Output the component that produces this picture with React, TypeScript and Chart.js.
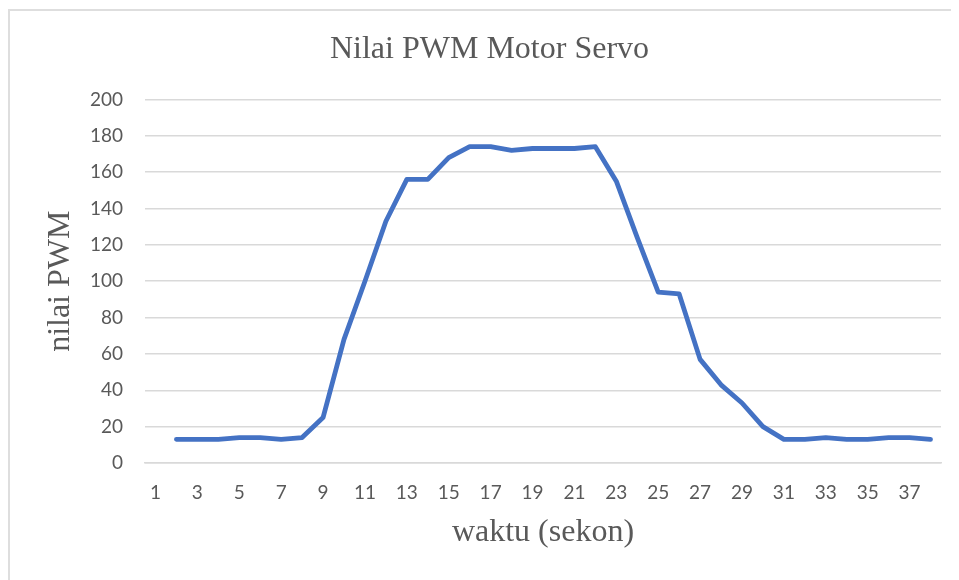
import React, { useEffect, useRef } from "react";
import { Chart, registerables } from "chart.js";

Chart.register(...registerables);

const categories: string[] = Array.from({ length: 38 }, (_, i) => String(i + 1));
const pwmValues: (number | null)[] = [
  null, 13, 13, 13, 14, 14, 13, 14, 25, 68,
  100, 133, 156, 156, 168, 174, 174, 172, 173, 173,
  173, 174, 155, 124, 94, 93, 57, 43, 33, 20,
  13, 13, 14, 13, 13, 14, 14, 13,
];
const yTicks: number[] = [0, 20, 40, 60, 80, 100, 120, 140, 160, 180, 200];
const chartTitle = "Nilai PWM Motor Servo";
const xTitle = "waktu (sekon)";
const yTitle = "nilai PWM";

export default function App() {
  const ref = useRef<HTMLCanvasElement | null>(null);

  useEffect(() => {
    if (!ref.current) return;
    const serif = "'Liberation Serif', 'Times New Roman', serif";
    const sans = "Lato, 'Noto Sans', sans-serif";
    const chart = new Chart(ref.current, {
      type: "line",
      data: {
        labels: categories,
        datasets: [
          {
            data: pwmValues,
            borderColor: "#4472C4",
            backgroundColor: "#4472C4",
            borderWidth: 4.8,
            pointRadius: 0,
            tension: 0,
            borderJoinStyle: "round",
            borderCapStyle: "round",
            spanGaps: false,
            yAxisID: "y",
          },
        ],
      },
      options: {
        responsive: false,
        animation: false,
        layout: { padding: { left: 0, right: 0, top: 0, bottom: 0 } },
        plugins: {
          legend: { display: false },
          tooltip: { enabled: false },
          title: {
            display: true,
            text: chartTitle,
            color: "#595959",
            font: { family: serif, size: 32, weight: "normal" },
            padding: { top: 19, bottom: 31 },
          },
        },
        scales: {
          x: {
            type: "category",
            offset: true,
            grid: { display: false, drawTicks: false },
            border: { display: true, color: "#d9d9d9", width: 1.5 },
            ticks: {
              autoSkip: false,
              maxRotation: 0,
              minRotation: 0,
              padding: 18,
              color: "#595959",
              font: { family: sans, size: 19 },
              callback: (_v: any, i: number) => (i % 2 === 0 ? categories[i] : ""),
            },
            title: {
              display: true,
              text: xTitle,
              color: "#595959",
              font: { family: serif, size: 32, weight: "normal" },
              padding: { top: 0, bottom: 28 },
            },
            afterFit: (scale: any) => {
              scale.height = 117;
            },
          },
          y: {
            min: 0,
            max: 200,
            afterBuildTicks: (scale: any) => {
              scale.ticks = yTicks.map((v) => ({ value: v }));
            },
            grid: { color: "#d9d9d9", lineWidth: 1.5, drawTicks: false },
            border: { display: false },
            ticks: {
              padding: 22,
              color: "#595959",
              font: { family: sans, size: 19 },
            },
            title: {
              display: true,
              text: yTitle,
              color: "#595959",
              font: { family: serif, size: 32, weight: "normal" },
              padding: { top: 31, bottom: 0 },
            },
            afterFit: (scale: any) => {
              scale.width = 135;
            },
          },
          yRight: {
            position: "right",
            min: 0,
            max: 200,
            grid: { display: false, drawTicks: false },
            border: { display: false },
            ticks: { display: false },
            afterFit: (scale: any) => {
              scale.width = 28;
            },
          },
        },
      },
    } as any);
    return () => chart.destroy();
  }, []);

  return (
    <div style={{ position: "relative", width: 951, height: 572, overflow: "hidden", background: "#fff" }}>
      <div
        style={{
          position: "absolute",
          left: 0,
          top: 1,
          width: 980,
          height: 600,
          borderTop: "2px solid #dedede",
          borderLeft: "2px solid #dedede",
          background: "#fff",
        }}
      >
        <canvas ref={ref} width={959} height={569} style={{ display: "block" }} />
      </div>
    </div>
  );
}
